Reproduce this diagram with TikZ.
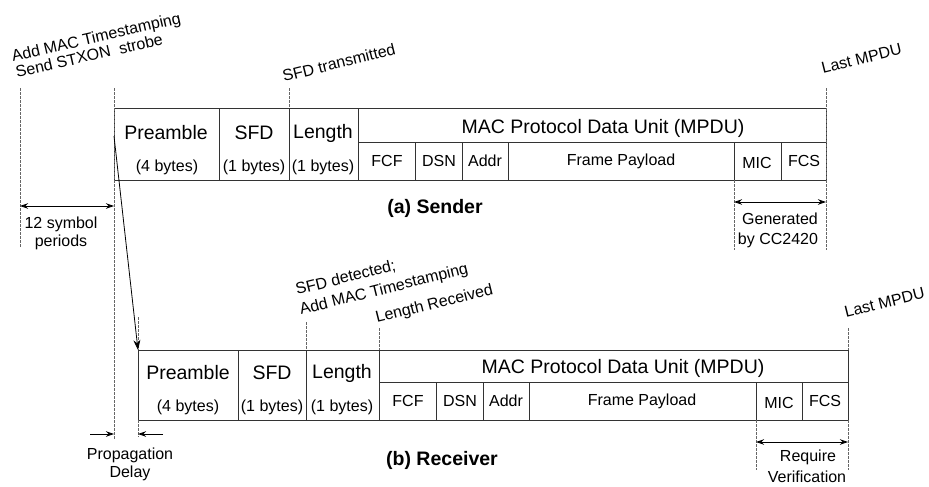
\documentclass[tikz,border=0pt]{standalone}
\usepackage{fontspec}
\setmainfont{Liberation Sans}
\usetikzlibrary{arrows.meta}
\begin{document}
\begin{tikzpicture}[x=1pt,y=-1pt,
  frame/.style={draw=black!80, line width=0.9pt},
  guide/.style={draw=black!60, dash pattern=on 2.5pt off 1.5pt, line width=0.8pt},
  dim/.style={draw=black, line width=0.9pt, {Stealth[length=8pt,width=5.5pt]}-{Stealth[length=8pt,width=5.5pt]}},
  onearrow/.style={draw=black, line width=0.9pt, -{Stealth[length=8pt,width=5.5pt]}},
  big/.style={font=\fontsize{19.5}{22}\selectfont, inner sep=0pt},
  small/.style={font=\fontsize{16}{18}\selectfont, inner sep=0pt},
  ttl/.style={font=\fontsize{19.5}{22}\selectfont\bfseries, inner sep=0pt},
  tilt/.style={font=\fontsize{16}{18}\selectfont, inner sep=0pt, anchor=base west, rotate=14},
]
\useasboundingbox (0,0) rectangle (929,487);

% ---------- Sender frame ----------
\draw[frame] (114,108) rectangle (826,180);
\foreach \x in {219,289,358} \draw[frame] (\x,108) -- (\x,180);
\draw[frame] (358,142) -- (826,142);
\foreach \x in {415,462,508,734,781} \draw[frame] (\x,142) -- (\x,180);

\node[big]   (sPre)  at (166,133) {Preamble};
\node[small] (sPreB) at (167,167) {(4 bytes)};
\node[big]   (sSFD)  at (254,133) {SFD};
\node[small] (sSFDB) at (254,167) {(1 bytes)};
\node[big]   (sLen)  at (323,133) {Length};
\node[small] (sLenB) at (323,167) {(1 bytes)};
\node[big]   (sMPDU) at (603,128) {MAC Protocol Data Unit (MPDU)};
\node[small] (sFCF)  at (387,161) {FCF};
\node[small] (sDSN)  at (439,161) {DSN};
\node[small] (sAddr) at (485,161) {Addr};
\node[small] (sFP)   at (621,161) {Frame Payload};
\node[small] (sMIC)  at (757,163) {MIC};
\node[small] (sFCS)  at (804,161) {FCS};

% ---------- Receiver frame ----------
\draw[frame] (138,350) rectangle (848,420);
\foreach \x in {238,306,379} \draw[frame] (\x,350) -- (\x,420);
\draw[frame] (379,382) -- (848,382);
\foreach \x in {436,483,529,756,802} \draw[frame] (\x,382) -- (\x,420);

\node[big]   (rPre)  at (188,373) {Preamble};
\node[small] (rPreB) at (188,407) {(4 bytes)};
\node[big]   (rSFD)  at (272,373) {SFD};
\node[small] (rSFDB) at (272,407) {(1 bytes)};
\node[big]   (rLen)  at (342,373) {Length};
\node[small] (rLenB) at (342,407) {(1 bytes)};
\node[big]   (rMPDU) at (623,368) {MAC Protocol Data Unit (MPDU)};
\node[small] (rFCF)  at (408,401) {FCF};
\node[small] (rDSN)  at (460,401) {DSN};
\node[small] (rAddr) at (506,401) {Addr};
\node[small] (rFP)   at (642,401) {Frame Payload};
\node[small] (rMIC)  at (779,403) {MIC};
\node[small] (rFCS)  at (825,401) {FCS};

% ---------- guide coordinates ----------
\coordinate (g1t) at (20,88);   \coordinate (g1b) at (20,247);
\coordinate (g2t) at (114,88);  \coordinate (g2b) at (114,440);
\coordinate (g3t) at (289,88);  \coordinate (g3b) at (289,108);
\coordinate (g4t) at (826,88);  \coordinate (g4b) at (826,250);
\coordinate (g5t) at (734,180); \coordinate (g5b) at (734,250);
\coordinate (g6t) at (138,317); \coordinate (g6m) at (138,350);
\coordinate (g6u) at (138,420); \coordinate (g6b) at (138,437);
\coordinate (g7t) at (306,322); \coordinate (g7b) at (306,350);
\coordinate (g8t) at (379,328); \coordinate (g8b) at (379,350);
\coordinate (g9t) at (848,328); \coordinate (g9m) at (848,350);
\coordinate (g9u) at (848,420); \coordinate (g9b) at (848,470);
\coordinate (g10t) at (756,420); \coordinate (g10b) at (756,470);

\draw[guide] (g1t) -- (g1b);
\draw[guide] (g2t) -- (g2b);
\draw[guide] (g3t) -- (g3b);
\draw[guide] (g4t) -- (g4b);
\draw[guide] (g5t) -- (g5b);
\draw[guide] (g6t) -- (g6m);
\draw[guide] (g6u) -- (g6b);
\draw[guide] (g7t) -- (g7b);
\draw[guide] (g8t) -- (g8b);
\draw[guide] (g9t) -- (g9m);
\draw[guide] (g9u) -- (g9b);
\draw[guide] (g10t) -- (g10b);

% ---------- dimension arrows ----------
\coordinate (symL) at (20,206);  \coordinate (symR) at (114,206);
\draw[dim] (symL) -- (symR);
\node[small] (sym1) at (61,224) {12 symbol};
\node[small] (sym2) at (61,242) {periods};

\coordinate (genL) at (734,202); \coordinate (genR) at (826,202);
\draw[dim] (genL) -- (genR);
\node[small] (gen1) at (780,219) {Generated};
\node[small] (gen2) at (778,240) {by CC2420};

\coordinate (reqL) at (756,442); \coordinate (reqR) at (848,442);
\draw[dim] (reqL) -- (reqR);
\node[small] (req1) at (808,457) {Require};
\node[small] (req2) at (807,477) {Verification};

\coordinate (pdA) at (90,434);  \coordinate (pdB) at (114,434);
\coordinate (pdC) at (163,434); \coordinate (pdD) at (138,434);
\draw[onearrow] (pdA) -- (pdB);
\draw[onearrow] (pdC) -- (pdD);
\node[small] (pd1) at (130,455) {Propagation};
\node[small] (pd2) at (130,473) {Delay};

% ---------- transmission arrow ----------
\coordinate (txS) at (114,136); \coordinate (txE) at (138,350);
\draw[draw=black, line width=0.8pt, -{Stealth[length=10pt,width=7pt]}] (txS) -- (txE);

% ---------- captions ----------
\node[ttl] (capA) at (435,208) {(a) Sender};
\node[ttl] (capB) at (442,460) {(b) Receiver};

% ---------- tilted labels ----------
\node[tilt, rotate=-1] (l1) at (13,62) {Add MAC Timestamping};
\node[tilt, rotate=-1] (l2) at (17,78) {Send STXON\ \ strobe};
\node[tilt] (l3) at (284,82) {SFD transmitted};
\node[tilt] (l4) at (823,74) {Last MPDU};
\node[tilt] (l5) at (297,295) {SFD detected;};
\node[tilt] (l6) at (301,315) {Add MAC Timestamping};
\node[tilt] (l7) at (377,323) {Length Received};
\node[tilt] (l8) at (846,318) {Last MPDU};
\end{tikzpicture}
\end{document}
